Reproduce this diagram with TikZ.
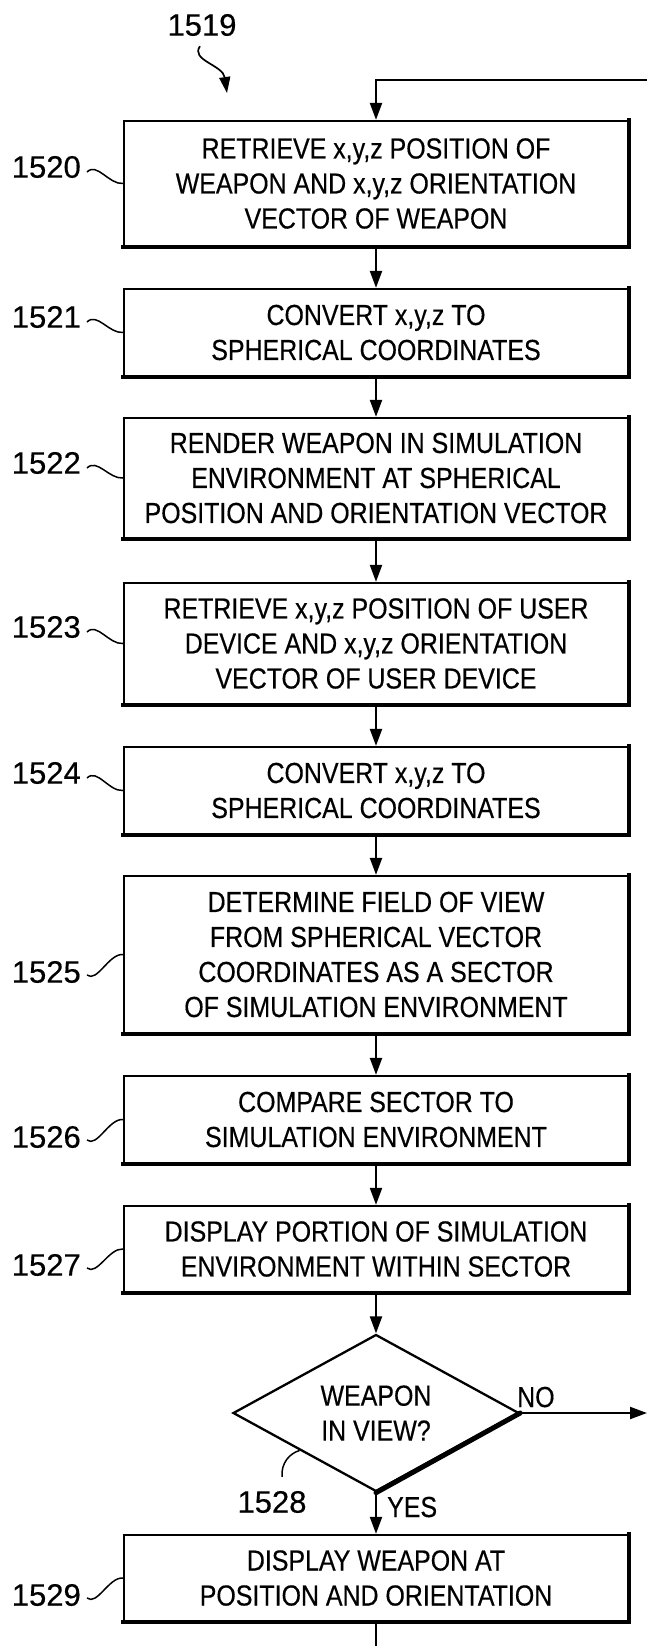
\documentclass[tikz,border=0pt]{standalone}
\usepackage{fontspec}
\setmainfont{Liberation Sans}[FakeBold=0.4]
\newfontfamily\boxfont{Liberation Sans}[FakeStretch=0.86,FakeBold=0.4]
\newfontfamily\numfont{Liberation Sans}[FakeBold=0.4]
\usetikzlibrary{arrows.meta,shapes.geometric,calc}
\begin{document}
\begin{tikzpicture}[x=1pt,y=-1pt,
  box/.style={draw, line width=2.3pt, minimum width=504pt, inner sep=0pt, align=center,
    font=\boxfont\fontsize{29}{35}\selectfont,
    append after command={(\tikzlastnode.south west) edge[line width=3.4pt, line cap=rect] (\tikzlastnode.south east)
      (\tikzlastnode.south east) edge[line width=3.4pt, line cap=rect] (\tikzlastnode.north east)}},
  lbl/.style={font=\numfont\fontsize{31}{36}\selectfont, inner sep=0pt},
  tag/.style={font=\boxfont\fontsize{29}{35}\selectfont, inner sep=0pt},
  arr/.style={line width=2.2pt, -{Triangle[width=12pt,length=17pt]}},
  lead/.style={line width=1.5pt},
]
\useasboundingbox (0,0) rectangle (647,1646);

% boxes
\node[box, minimum height=125pt] (b1520) at (376,183.5) {RETRIEVE x,y,z POSITION OF\\WEAPON AND x,y,z ORIENTATION\\VECTOR OF WEAPON};
\node[box, minimum height=87pt] (b1521) at (376,332.5) {CONVERT x,y,z TO\\SPHERICAL COORDINATES};
\node[box, minimum height=120pt] (b1522) at (376,478) {RENDER WEAPON IN SIMULATION\\ENVIRONMENT AT SPHERICAL\\POSITION AND ORIENTATION VECTOR};
\node[box, minimum height=121pt] (b1523) at (376,643.5) {RETRIEVE x,y,z POSITION OF USER\\DEVICE AND x,y,z ORIENTATION\\VECTOR OF USER DEVICE};
\node[box, minimum height=87pt] (b1524) at (376,790.5) {CONVERT x,y,z TO\\SPHERICAL COORDINATES};
\node[box, minimum height=157pt] (b1525) at (376,954.5) {DETERMINE FIELD OF VIEW\\FROM SPHERICAL VECTOR\\COORDINATES AS A SECTOR\\OF SIMULATION ENVIRONMENT};
\node[box, minimum height=87pt] (b1526) at (376,1119.5) {COMPARE SECTOR TO\\SIMULATION ENVIRONMENT};
\node[box, minimum height=86pt] (b1527) at (376,1249) {DISPLAY PORTION OF SIMULATION\\ENVIRONMENT WITHIN SECTOR};
\node[draw, diamond, aspect=1.83, minimum width=286pt, minimum height=157pt, inner sep=0pt,
  line width=2.3pt, align=center, font=\boxfont\fontsize{29}{35}\selectfont,
  append after command={(\tikzlastnode.east) edge[line width=5pt, line cap=round] (\tikzlastnode.south)}]
  (dia) at (376,1413) {WEAPON\\IN VIEW?};
\node[box, minimum height=86pt] (b1529) at (376,1578) {DISPLAY WEAPON AT\\POSITION AND ORIENTATION};

% connectors
\coordinate (loopR) at (647,80);
\coordinate (noR) at (647,1413);
\coordinate (botE) at (376,1646);
\draw[arr] (loopR) -| (b1520.north);
\draw[arr] (b1520) -- (b1521);
\draw[arr] (b1521) -- (b1522);
\draw[arr] (b1522) -- (b1523);
\draw[arr] (b1523) -- (b1524);
\draw[arr] (b1524) -- (b1525);
\draw[arr] (b1525) -- (b1526);
\draw[arr] (b1526) -- (b1527);
\draw[arr] (b1527) -- (dia);
\draw[arr] (dia) -- (b1529);
\draw[arr] (dia.east) -- (noR);
\draw[line width=2.2pt] (b1529.south) -- (botE);

\node[tag, anchor=base west] (no) at (517,1407) {NO};
\node[tag, anchor=base west] (yes) at (387,1517) {YES};

% reference labels
\node[lbl, anchor=east] (l1520) at (81,167) {1520};
\node[lbl, anchor=east] (l1521) at (81,317) {1521};
\node[lbl, anchor=east] (l1522) at (81,463) {1522};
\node[lbl, anchor=east] (l1523) at (81,627) {1523};
\node[lbl, anchor=east] (l1524) at (81,773) {1524};
\node[lbl, anchor=east] (l1525) at (81,972) {1525};
\node[lbl, anchor=east] (l1526) at (81,1137) {1526};
\node[lbl, anchor=east] (l1527) at (81,1265) {1527};
\node[lbl, anchor=east] (l1529) at (81,1595) {1529};

\foreach \n in {1520,1521,1522,1523,1524}{
  \draw[lead] ([shift={(6,5)}]l\n.east) .. controls +(10,-10) and +(-14,1) .. (b\n.west);
}
\foreach \n in {1525,1526,1527,1529}{
  \draw[lead] ([shift={(6,3)}]l\n.east) .. controls +(10,8) and +(-14,-1) .. (b\n.west);
}

\node[lbl] (l1519) at (202,25) {1519};
\coordinate (t1519) at (227,93);
\draw[lead, line width=1.7pt, -{Triangle[width=11pt,length=16pt]}] ([shift={(-2,10)}]l1519.south) .. controls +(-10,14) and +(-4,-28) .. (t1519);

\node[lbl] (l1528) at (272,1502) {1528};
\coordinate (d1528) at ($(dia.west)!0.47!(dia.south)$);
\draw[lead] ([shift={(10,-14)}]l1528.north) .. controls +(-1,-14) and +(-10,3) .. (d1528);
\end{tikzpicture}
\end{document}
